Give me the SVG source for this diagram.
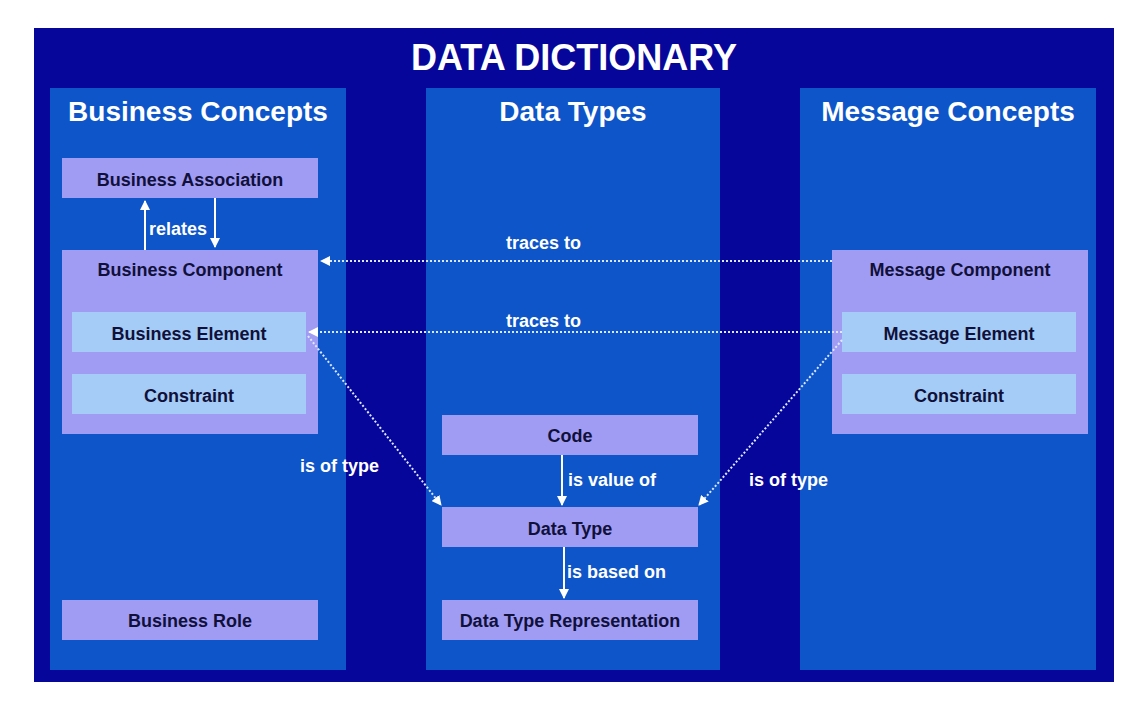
<svg xmlns="http://www.w3.org/2000/svg" width="1142" height="714" viewBox="0 0 1142 714">
<style>
.col{fill:#0d55c8}
.p{fill:#a09cf4}
.b{fill:#a4ccf6}
.t{font-family:"Liberation Sans",Arial,sans-serif;font-weight:bold;font-size:18px;fill:#10103a;text-anchor:middle}
.h{font-family:"Liberation Sans",Arial,sans-serif;font-weight:bold;font-size:28px;fill:#fff;text-anchor:middle}
.l{font-family:"Liberation Sans",Arial,sans-serif;font-weight:bold;font-size:18px;fill:#fff}
.s{stroke:#fff;stroke-width:2;fill:none}
.d{stroke:#dde8ff;stroke-width:2;stroke-dasharray:2 2;fill:none}
</style>
<defs><marker id="a" viewBox="0 0 10 10" refX="9" refY="5" markerWidth="5" markerHeight="5" orient="auto"><path d="M0,0L10,5L0,10z" fill="#fff"/></marker></defs>
<rect width="1142" height="714" fill="#fff"/>
<rect x="34" y="28" width="1080" height="654" fill="#06069a"/>
<text class="h" x="574" y="70" font-size="36" style="font-size:36px">DATA DICTIONARY</text>
<rect class="col" x="50" y="88" width="296" height="582"/>
<rect class="col" x="426" y="88" width="294" height="582"/>
<rect class="col" x="800" y="88" width="296" height="582"/>
<text class="h" x="198" y="121">Business Concepts</text>
<text class="h" x="573" y="121">Data Types</text>
<text class="h" x="948" y="121">Message Concepts</text>
<g id="ba"><rect class="p" x="62" y="158" width="256" height="40"/><text class="t" x="190" y="186">Business Association</text></g>
<g id="bc"><rect class="p" x="62" y="250" width="256" height="184"/><text class="t" x="190" y="276">Business Component</text></g>
<g id="be"><rect class="b" x="72" y="312" width="234" height="40"/><text class="t" x="189" y="340">Business Element</text></g>
<g id="bcon"><rect class="b" x="72" y="374" width="234" height="40"/><text class="t" x="189" y="402">Constraint</text></g>
<g id="br"><rect class="p" x="62" y="600" width="256" height="40"/><text class="t" x="190" y="627">Business Role</text></g>
<g id="code"><rect class="p" x="442" y="415" width="256" height="40"/><text class="t" x="570" y="442">Code</text></g>
<g id="dt"><rect class="p" x="442" y="507" width="256" height="40"/><text class="t" x="570" y="535">Data Type</text></g>
<g id="dtr"><rect class="p" x="442" y="600" width="256" height="40"/><text class="t" x="570" y="627">Data Type Representation</text></g>
<g id="mc"><rect class="p" x="832" y="250" width="256" height="184"/><text class="t" x="960" y="276">Message Component</text></g>
<g id="me"><rect class="b" x="842" y="312" width="234" height="40"/><text class="t" x="959" y="340">Message Element</text></g>
<g id="mcon"><rect class="b" x="842" y="374" width="234" height="40"/><text class="t" x="959" y="402">Constraint</text></g>
<g id="connectors">
<line class="s" x1="145" y1="250" x2="145" y2="201" marker-end="url(#a)"/>
<line class="s" x1="215" y1="198" x2="215" y2="247" marker-end="url(#a)"/>
<line class="d" x1="832" y1="261" x2="321" y2="261" marker-end="url(#a)"/>
<line class="d" x1="842" y1="332" x2="309" y2="332" marker-end="url(#a)"/>
<line class="d" x1="308" y1="336" x2="441" y2="505" marker-end="url(#a)"/>
<line class="d" x1="842" y1="340" x2="699" y2="505" marker-end="url(#a)"/>
<line class="s" x1="562" y1="455" x2="562" y2="505" marker-end="url(#a)"/>
<line class="s" x1="564" y1="547" x2="564" y2="598" marker-end="url(#a)"/>
</g>
<text class="l" x="149" y="235">relates</text>
<text class="l" x="506" y="249">traces to</text>
<text class="l" x="506" y="327">traces to</text>
<text class="l" x="300" y="472">is of type</text>
<text class="l" x="749" y="486">is of type</text>
<text class="l" x="568" y="486">is value of</text>
<text class="l" x="567" y="578">is based on</text>
</svg>
